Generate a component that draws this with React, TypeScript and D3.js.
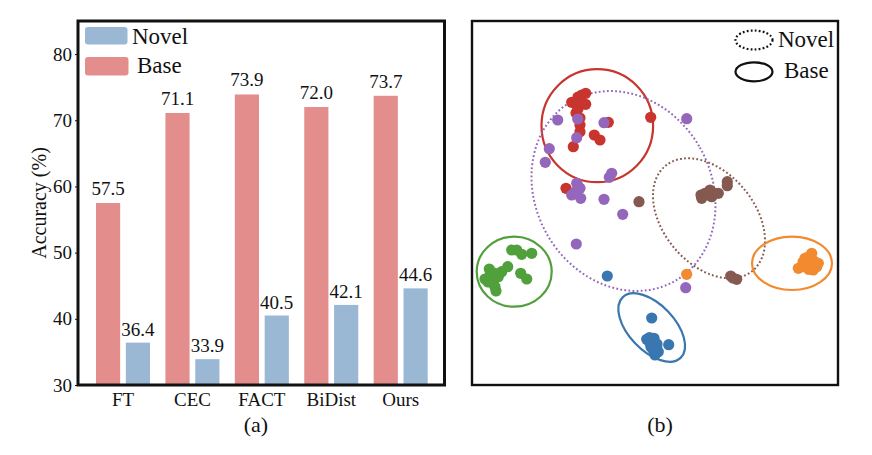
// Two-panel figure: accuracy bars per method (a) and a feature scatter with class ellipses (b)
import { useEffect, useRef } from "react"
import * as d3 from "d3"

const METHODS = ["FT", "CEC", "FACT", "BiDist", "Ours"]
const BASE_ACC = [57.5, 71.1, 73.9, 72.0, 73.7]
const NOVEL_ACC = [36.4, 33.9, 40.5, 42.1, 44.6]
const Y_TICKS = [30, 40, 50, 60, 70, 80]

// embedding coordinates per class, [x, y]
const RED_PTS = [[99.7, 282.7], [106, 288], [109.7, 290], [113.7, 291.7], [113.7, 280.7], [104.7, 280], [109, 283], [104, 272], [106, 276], [108, 267], [108, 260], [108, 253.3], [101.3, 238.3], [122.3, 250], [128, 245], [136.3, 262.7], [178.7, 267.7], [94, 196.7]]
const PURPLE_PTS = [[85.7, 265], [105.7, 266], [132, 262.3], [104.7, 247.3], [77.3, 236.3], [73.3, 222.7], [139.7, 211.7], [137.3, 207.7], [104.7, 201.7], [108, 196.7], [103, 193], [106, 199], [99.7, 190], [108.7, 186.7], [132, 185.7], [150.7, 170.7], [214.7, 266.3], [104.3, 141], [213.7, 97.3]]
const BROWN_PTS = [[167, 183.3], [229, 190], [233, 191.7], [229.7, 186.7], [236, 190], [238, 195], [239.7, 188.3], [242, 192], [246.3, 191.7], [255.3, 203.3], [255.3, 199.3], [258.7, 109], [261, 107], [264.7, 105.7]]
const ORANGE_PTS = [[214.7, 110.7], [339.7, 131.7], [333, 126.7], [336, 128], [346.3, 121.7], [326.3, 116.7], [331.3, 118.3], [341.3, 115], [336.3, 121.7], [344.7, 118.3], [337, 115.5], [342, 124], [331, 123]]
const GREEN_PTS = [[39.7, 135], [44.7, 135], [49.7, 130.7], [59.7, 131.7], [17.3, 116], [35.7, 118.3], [29.7, 113.3], [25, 111], [48.7, 111.7], [54.7, 106], [13, 106], [19.7, 106.7], [26.3, 108.3], [21.3, 101.7], [24, 94], [23, 98.3], [18, 110], [16, 103], [22, 112]]
const BLUE_PTS = [[135.3, 109], [179.7, 67], [196.7, 40.3], [174.7, 45.7], [177.5, 47.5], [182, 46.7], [178, 41.7], [181, 43], [184.7, 38.3], [183, 30], [186.3, 33.3], [181.3, 35], [185, 41], [179, 38], [184, 34]]

// fitted ellipses: centre x, centre y, radius x, radius y, rotation in degrees
const RED_ELLIPSE = [125.3, 259.3, 55.8, 56.5, 0]
const PURPLE_ELLIPSE = [151.5, 194, 87.9, 103.6, -29.7]
const BROWN_ELLIPSE = [237, 166.7, 45.7, 68.2, -39.8]
const ORANGE_ELLIPSE = [320, 121.7, 40, 26.7, 0]
const GREEN_ELLIPSE = [42.2, 113.3, 37.5, 35, 0]
const BLUE_ELLIPSE = [179.7, 57.5, 22.9, 41.9, -43.6]

const BASE_COLOR = "#e38d8d"
const NOVEL_COLOR = "#9ab7d4"
const FONT = "'Liberation Serif', serif"

const CLASSES = [
  { pts: RED_PTS, ell: RED_ELLIPSE, color: "#c8352e", dotted: false },
  { pts: BROWN_PTS, ell: BROWN_ELLIPSE, color: "#85594f", dotted: true },
  { pts: PURPLE_PTS, ell: PURPLE_ELLIPSE, color: "#9467bd", dotted: true },
  { pts: GREEN_PTS, ell: GREEN_ELLIPSE, color: "#50a03c", dotted: false },
  { pts: BLUE_PTS, ell: BLUE_ELLIPSE, color: "#3a76b0", dotted: false },
  { pts: ORANGE_PTS, ell: ORANGE_ELLIPSE, color: "#f28a30", dotted: false },
]

export default function App() {
  const yAxisRef = useRef<SVGGElement>(null)
  const xAxisRef = useRef<SVGGElement>(null)

  const left = { x0: 78, x1: 444.5, y0: 21, y1: 385 }
  const right = { x0: 472, x1: 838, y0: 21, y1: 385 }

  const y = d3.scaleLinear().domain([30, 85]).range([left.y1, left.y0])
  const x = d3.scaleBand().domain(METHODS).range([88.3, 435.4])
  const inner = d3.scaleBand().domain(["base", "novel"]).range([7.7, 61.7]).paddingInner(0.19)

  const px = d3.scaleLinear().domain([0, 366]).range([right.x0, right.x1])
  const py = d3.scaleLinear().domain([0, 364]).range([right.y1, right.y0])

  useEffect(() => {
    if (!yAxisRef.current || !xAxisRef.current) return
    const gy = d3.select(yAxisRef.current)
    gy.call(d3.axisLeft(y).tickValues(Y_TICKS).tickSize(3).tickPadding(3) as any)
    gy.select(".domain").remove()
    gy.selectAll("text").attr("font-family", FONT).attr("font-size", 19).attr("fill", "#111")
    gy.selectAll("line").attr("stroke", "#111")

    const gx = d3.select(xAxisRef.current)
    gx.call(d3.axisBottom(x).tickSize(0).tickPadding(8) as any)
    gx.select(".domain").remove()
    gx.selectAll("text").attr("font-family", FONT).attr("font-size", 19).attr("fill", "#111")
  }, [])

  return (
    <svg width={872} height={455} style={{ position: "absolute", left: 0, top: 0, background: "#fff" }} fontFamily={FONT}>
      {/* (a) bars */}
      {METHODS.map((m, i) => (
        <g key={m} transform={`translate(${x(m)},0)`}>
          <rect x={inner("base")} y={y(BASE_ACC[i])} width={inner.bandwidth()} height={y(30) - y(BASE_ACC[i])} fill={BASE_COLOR} />
          <rect x={inner("novel")} y={y(NOVEL_ACC[i])} width={inner.bandwidth()} height={y(30) - y(NOVEL_ACC[i])} fill={NOVEL_COLOR} />
          <text x={inner("base")! + inner.bandwidth() / 2} y={y(BASE_ACC[i]) - 8} textAnchor="middle" fontSize={19} fill="#111">{BASE_ACC[i].toFixed(1)}</text>
          <text x={inner("novel")! + inner.bandwidth() / 2} y={y(NOVEL_ACC[i]) - 7} textAnchor="middle" fontSize={19} fill="#111">{NOVEL_ACC[i].toFixed(1)}</text>
        </g>
      ))}
      <g ref={yAxisRef} transform={`translate(${left.x0},0)`} />
      <g ref={xAxisRef} transform={`translate(0,${left.y1})`} />
      <rect x={left.x0} y={left.y0} width={left.x1 - left.x0} height={left.y1 - left.y0} fill="none" stroke="#111" strokeWidth={3} />
      <text transform="translate(46,203) rotate(-90)" textAnchor="middle" fontSize={20} fill="#111">Accuracy (%)</text>

      <rect x={85} y={27} width={42.5} height={17.5} rx={3} fill={NOVEL_COLOR} />
      <text x={132} y={44} fontSize={23} fill="#111">Novel</text>
      <rect x={85} y={57} width={43.5} height={18.5} rx={3} fill={BASE_COLOR} />
      <text x={137} y={72.5} fontSize={23} fill="#111">Base</text>
      <text x={256} y={432} textAnchor="middle" fontSize={22} fill="#111">(a)</text>

      {/* (b) scatter */}
      {CLASSES.map((c, i) => (
        <ellipse
          key={i}
          cx={px(c.ell[0])}
          cy={py(c.ell[1])}
          rx={c.ell[2]}
          ry={c.ell[3]}
          transform={`rotate(${c.ell[4]} ${px(c.ell[0])} ${py(c.ell[1])})`}
          fill="none"
          stroke={c.color}
          strokeWidth={c.dotted ? 2 : 2.2}
          strokeDasharray={c.dotted ? "1.8 2.3" : undefined}
        />
      ))}
      {CLASSES.map((c, i) => (
        <g key={i} fill={c.color}>
          {c.pts.map((p, j) => <circle key={j} cx={px(p[0])} cy={py(p[1])} r={5.6} />)}
        </g>
      ))}
      <rect x={right.x0} y={right.y0} width={right.x1 - right.x0} height={right.y1 - right.y0} fill="none" stroke="#111" strokeWidth={2.4} />

      <ellipse cx={754} cy={40} rx={18.5} ry={9.5} fill="none" stroke="#111" strokeWidth={2.2} strokeDasharray="1.8 2.2" />
      <text x={778} y={47} fontSize={23} fill="#111">Novel</text>
      <ellipse cx={754} cy={71.8} rx={18.5} ry={9.5} fill="none" stroke="#111" strokeWidth={2.2} />
      <text x={784} y={78} fontSize={23} fill="#111">Base</text>
      <text x={660} y={432} textAnchor="middle" fontSize={22} fill="#111">(b)</text>
    </svg>
  )
}
